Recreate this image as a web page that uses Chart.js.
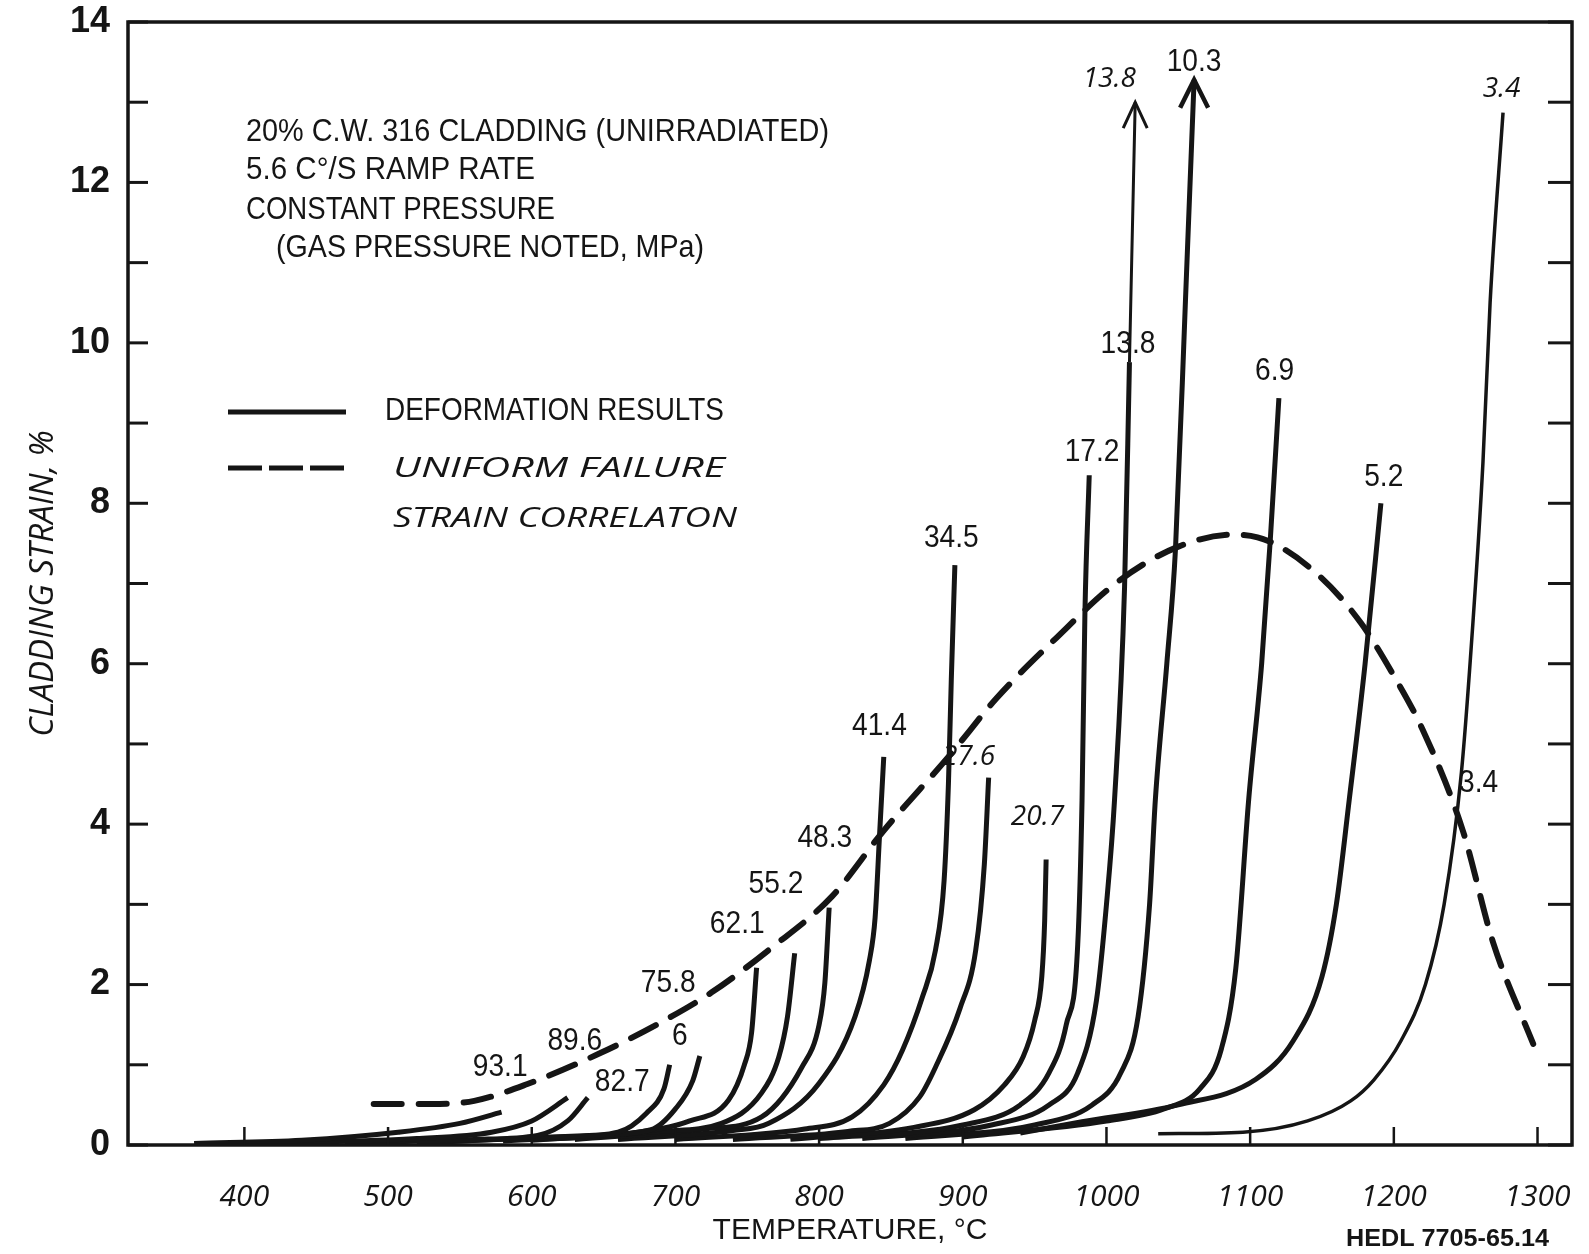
<!DOCTYPE html>
<html>
<head>
<meta charset="utf-8">
<title>Cladding strain vs temperature</title>
<script src="https://cdn.jsdelivr.net/npm/chart.js@4.4.0/dist/chart.umd.min.js"></script>
<style>
	html, body { margin: 0; padding: 0; background: #fff; }
	#wrap { width: 1589px; height: 1254px; }
</style>
</head>
<body>
<div id="wrap"><canvas id="strainChart" width="1589" height="1254"></canvas></div>
<script>
// temperature (C), strain (%) pairs, one curve per gas pressure (MPa)
const curve93_1 = [[365,0.02],[440,0.06],[507,0.16],[550,0.27],[579,0.41]];
const curve89_6 = [[420,0.02],[520,0.08],[572,0.16],[600,0.3],[625,0.59]];
const curve82_7 = [[470,0.02],[560,0.07],[604,0.12],[625,0.3],[639,0.59]];
const curve69_0 = [[520,0.03],[620,0.1],[660,0.16],[680,0.4],[692,0.7],[696,1.0]];
const curve75_8 = [[540,0.04],[640,0.12],[683,0.19],[700,0.45],[712,0.8],[717,1.11]];
const curve62_1 = [[580,0.05],[670,0.15],[710,0.3],[737,0.56],[748,1.0],[753,1.4],[756.5,2.21]];
const curve55_2 = [[600,0.06],[690,0.17],[732,0.27],[760,0.65],[772,1.1],[778,1.6],[783,2.39]];
const curve48_3 = [[630,0.07],[720,0.2],[760,0.35],[788,0.97],[800,1.5],[804,2.02],[807,2.96]];
const curve41_4 = [[660,0.07],[740,0.18],[765,0.27],[800,0.77],[825,1.6],[835,2.3],[839,2.84],[842,3.84],[845,4.84]];
const curve34_5 = [[700,0.07],[790,0.2],[823,0.35],[845,0.75],[858,1.18],[872,1.85],[881,2.43],[887,3.3],[890,4.5],[892,5.8],[894.5,7.23]];
const curve27_6 = [[740,0.07],[820,0.17],[849,0.27],[870,0.6],[881,0.97],[898,1.7],[909,2.43],[915,3.5],[918,4.58]];
const curve20_7 = [[780,0.07],[866,0.22],[908,0.44],[929,0.75],[942,1.1],[950,1.55],[955,2.1],[957,2.8],[958,3.56]];
const curve17_2 = [[800,0.08],[900,0.25],[940,0.5],[960,0.9],[972,1.5],[980,2.5],[983,4.3],[985,6.63],[988,8.35]];
const curve13_8 = [[830,0.08],[920,0.25],[960,0.5],[980,0.9],[993,1.8],[1000,3.0],[1005.6,4.3],[1012.6,6.96],[1016,9.76],[1020,13.0]];
const curve10_3 = [[860,0.08],[950,0.25],[990,0.5],[1010,0.9],[1022,1.6],[1030,3.0],[1034,4.3],[1042,6.0],[1048,7.42],[1055,10.54],[1061,13.28]];
const curve6_9 = [[900,0.1],[1000,0.3],[1040,0.45],[1065,0.7],[1080,1.2],[1090,2.2],[1099,4.31],[1108,6.0],[1114,7.54],[1120,9.31]];
const curve5_2 = [[940,0.15],[983,0.29],[1050,0.5],[1104,0.82],[1130,1.3],[1150,2.1],[1160,3.0],[1169,4.31],[1180,6.0],[1191,8.0]];
const curve3_4 = [[1036,0.14],[1095,0.16],[1140,0.3],[1170,0.55],[1186,0.81],[1205,1.3],[1222,2.0],[1235,3.0],[1247,4.64],[1255,6.5],[1262,8.5],[1267,10.5],[1276,12.87]];

// uniform failure strain correlation (dashed)
const failureStrain = [[490,0.51],[530,0.51],[560,0.55],[597,0.76],[647,1.14],[689,1.52],[725,1.9],[767,2.46],[809,3.1],[845,3.92],[891,4.86],[923,5.56],[965,6.32],[1007,7.01],[1050,7.46],[1089,7.61],[1114,7.52],[1149,7.08],[1177,6.51],[1200,5.85],[1220,5.18],[1248,3.92],[1269,2.53],[1297,1.26]];

const deformationCurves = [
	['93.1', curve93_1], ['89.6', curve89_6], ['82.7', curve82_7], ['69', curve69_0],
	['75.8', curve75_8], ['62.1', curve62_1], ['55.2', curve55_2], ['48.3', curve48_3],
	['41.4', curve41_4], ['34.5', curve34_5], ['27.6', curve27_6], ['20.7', curve20_7],
	['17.2', curve17_2], ['13.8', curve13_8], ['10.3', curve10_3], ['6.9', curve6_9],
	['5.2', curve5_2], ['3.4', curve3_4]
];

// pressure notes: text, temperature, strain, hand (typed or written)
const pressureNotes = [
	['93.1', 578, 0.97, 'typed'], ['89.6', 630, 1.3, 'typed'], ['82.7', 663, 0.78, 'typed'],
	['6', 703, 1.36, 'typed'], ['75.8', 695, 2.02, 'typed'], ['62.1', 743, 2.75, 'typed'],
	['55.2', 770, 3.25, 'typed'], ['48.3', 804, 3.82, 'typed'], ['41.4', 842, 5.22, 'typed'],
	['34.5', 892, 7.57, 'typed'], ['27.6', 904, 4.84, 'hand'], ['20.7', 952, 4.09, 'hand'],
	['17.2', 990, 8.64, 'typed'], ['13.8', 1015, 9.98, 'typed'], ['13.8', 1002, 13.29, 'hand'],
	['10.3', 1061, 13.5, 'typed'], ['6.9', 1117, 9.65, 'typed'], ['5.2', 1193, 8.33, 'typed'],
	['3.4', 1275, 13.17, 'hand'], ['3.4', 1259, 4.51, 'typed']
];

const xTickValues = [400, 500, 600, 700, 800, 900, 1000, 1100, 1200, 1300];

const ink = '#151515';
const typedFont = "32px 'Liberation Sans', Arial, sans-serif";
const handFont = "italic 28px 'Open Sans', 'DejaVu Sans', sans-serif";

function toPoints(pairs) {
	return pairs.map(p => ({ x: p[0], y: p[1] }));
}

function strokeLine(ctx, x1, y1, x2, y2) {
	ctx.beginPath();
	ctx.moveTo(x1, y1);
	ctx.lineTo(x2, y2);
	ctx.stroke();
}

// squeeze text sideways so it looks like the narrow typewriter lettering
function narrowText(ctx, str, x, y, font, sx, align) {
	ctx.save();
	ctx.font = font;
	ctx.textAlign = align || 'left';
	ctx.textBaseline = 'middle';
	ctx.translate(x, y);
	ctx.scale(sx, 1);
	ctx.fillText(str, 0, 0);
	ctx.restore();
}

function fitText(ctx, str, x, y, font, width) {
	ctx.save();
	ctx.font = font;
	const w = ctx.measureText(str).width;
	ctx.restore();
	narrowText(ctx, str, x, y, font, width / w, 'left');
}

function arrowHead(ctx, px, py, half, len, lw) {
	ctx.lineWidth = lw;
	ctx.beginPath();
	ctx.moveTo(px - half, py + len);
	ctx.lineTo(px, py);
	ctx.lineTo(px + half, py + len);
	ctx.stroke();
}

// drop the extra room chart.js keeps for half-labels, so the box sits where the paper has it
function noEdgePadding(s) {
	s.paddingTop = 0;
	s.paddingBottom = 0;
	s.paddingLeft = 0;
	s.paddingRight = 0;
}

const paperMarks = {
	id: 'paperMarks',
	afterDatasetsDraw(chart) {
		const { ctx, chartArea: a, scales: { x, y } } = chart;
		ctx.save();
		ctx.strokeStyle = ink;
		ctx.fillStyle = ink;
		ctx.lineCap = 'butt';

		// frame
		ctx.lineWidth = 3.5;
		ctx.strokeRect(a.left, a.top, a.right - a.left, a.bottom - a.top);

		// tick marks point inwards
		ctx.lineWidth = 3;
		y.ticks.forEach(t => {
			const py = y.getPixelForValue(t.value);
			strokeLine(ctx, a.left, py, a.left + 20, py);
			strokeLine(ctx, a.right - 24, py, a.right, py);
		});
		ctx.lineWidth = 2.5;
		x.ticks.forEach(t => {
			const px = x.getPixelForValue(t.value);
			strokeLine(ctx, px, a.bottom, px, a.bottom - 18);
		});

		// arrows on the two curves that run off scale
		const arrowed = { '13.8': [12, 26, 3], '10.3': [14, 28, 4.5] };
		chart.data.datasets.forEach((ds, i) => {
			const spec = arrowed[ds.label];
			if (!spec) return;
			const pts = chart.getDatasetMeta(i).data;
			const tip = pts[pts.length - 1];
			arrowHead(ctx, tip.x, tip.y, spec[0], spec[1], spec[2]);
		});

		// pressure notes
		pressureNotes.forEach(n => {
			const px = x.getPixelForValue(n[1]);
			const py = y.getPixelForValue(n[2]);
			if (n[3] === 'typed') {
				narrowText(ctx, n[0], px, py, typedFont, 0.88, 'center');
			} else {
				narrowText(ctx, n[0], px, py, handFont, 1, 'center');
			}
		});

		// description block
		fitText(ctx, '20% C.W. 316 CLADDING (UNIRRADIATED)', 246, 132, typedFont, 583);
		fitText(ctx, '5.6 C\u00b0/S RAMP RATE', 246, 170, typedFont, 289);
		fitText(ctx, 'CONSTANT PRESSURE', 246, 210, typedFont, 309);
		fitText(ctx, '(GAS PRESSURE NOTED, MPa)', 276, 248, typedFont, 428);

		// key
		ctx.lineWidth = 5;
		ctx.setLineDash([]);
		strokeLine(ctx, 228, 412, 346, 412);
		ctx.setLineDash([34, 7]);
		strokeLine(ctx, 228, 468, 346, 468);
		ctx.setLineDash([]);
		fitText(ctx, 'DEFORMATION RESULTS', 385, 411, typedFont, 339);
		fitText(ctx, 'UNIFORM FAILURE', 393, 469, handFont, 332);
		fitText(ctx, 'STRAIN CORRELATON', 393, 519, handFont, 344);

		// report number
		fitText(ctx, 'HEDL 7705-65.14', 1346, 1239, "bold 24px 'Liberation Sans', Arial, sans-serif", 203);
		ctx.restore();
	}
};

const datasets = deformationCurves.map(([label, pairs]) => ({
	label: label,
	data: toPoints(pairs),
	borderColor: ink,
	borderWidth: label === '3.4' ? 3.5 : 5,
	pointRadius: 0,
	fill: false,
	cubicInterpolationMode: 'monotone',
	segment: label === '13.8' ? {
		borderWidth: c => c.p1DataIndex === pairs.length - 1 ? 3 : 5
	} : undefined
}));

datasets.push({
	label: 'Uniform failure strain correlation',
	data: toPoints(failureStrain),
	borderColor: ink,
	borderWidth: 6,
	borderDash: [28, 17],
	borderCapStyle: 'round',
	pointRadius: 0,
	fill: false,
	cubicInterpolationMode: 'monotone'
});

const ctx = document.getElementById('strainChart').getContext('2d');
new Chart(ctx, {
	type: 'line',
	data: { datasets: datasets },
	options: {
		responsive: false,
		animation: false,
		devicePixelRatio: 1,
		layout: { padding: { top: 22, right: 17, bottom: 0, left: 0 } },
		plugins: {
			legend: { display: false },
			tooltip: { enabled: false }
		},
		scales: {
			x: {
				type: 'linear',
				min: 319,
				max: 1324,
				afterFit: s => { s.height = 109; noEdgePadding(s); },
				afterBuildTicks: s => { s.ticks = xTickValues.map(v => ({ value: v })); },
				grid: { display: false, drawTicks: false },
				border: { display: false },
				ticks: {
					padding: 34,
					color: ink,
					font: { family: "'Open Sans', 'DejaVu Sans', sans-serif", style: 'italic', weight: 'normal', size: 30 },
					callback: v => String(v)
				},
				title: {
					display: true,
					text: 'TEMPERATURE, \u00b0C',
					color: ink,
					font: { family: "'Liberation Sans Narrow', 'Liberation Sans', Arial, sans-serif", size: 30 },
					padding: { top: 0, bottom: 5 }
				}
			},
			y: {
				type: 'linear',
				min: 0,
				max: 14,
				afterFit: s => { s.width = 128; noEdgePadding(s); },
				grid: { display: false, drawTicks: false },
				border: { display: false },
				ticks: {
					stepSize: 1,
					padding: 18,
					color: ink,
					font: { family: "'Liberation Sans Narrow', 'Liberation Sans', Arial, sans-serif", weight: 'bold', size: 36 },
					callback: v => (v % 2 === 0 ? String(v) : '')
				},
				title: {
					display: true,
					text: 'CLADDING STRAIN, %',
					color: ink,
					font: { family: "'Open Sans', 'DejaVu Sans', sans-serif", style: 'italic', weight: 'normal', size: 33 },
					padding: { top: 24, bottom: 0 }
				}
			}
		}
	},
	plugins: [paperMarks]
});
</script>
</body>
</html>
